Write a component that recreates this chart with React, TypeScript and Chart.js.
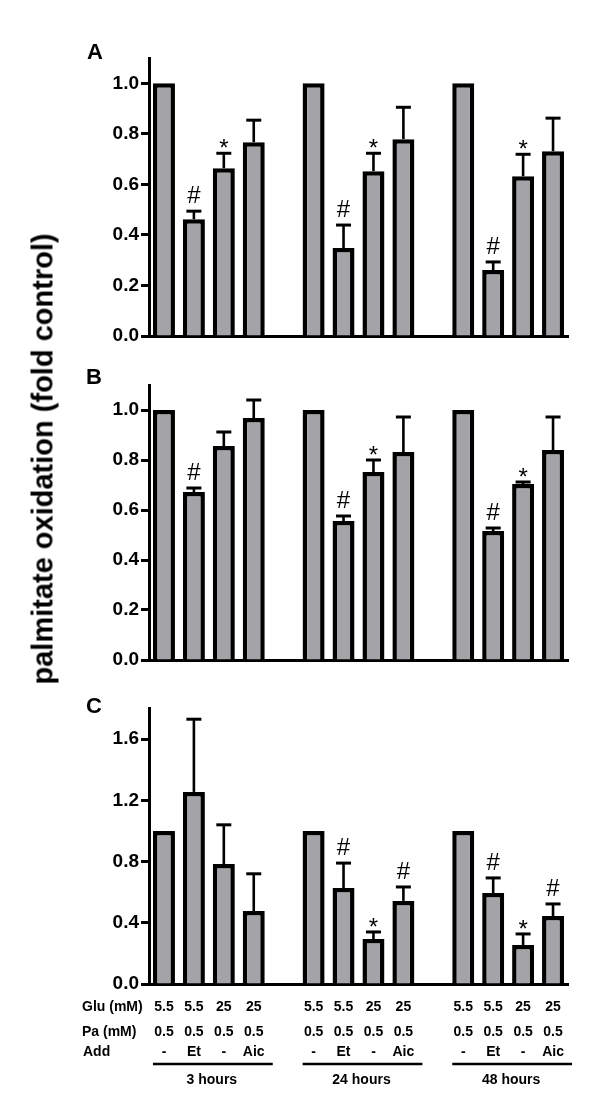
import React, { useEffect, useRef } from 'react';
import { Chart, registerables } from 'chart.js';

Chart.register(...registerables);

const FONT = "'Liberation Sans', Arial, Helvetica, sans-serif";

// Categories: 3 time groups x 4 conditions, with one empty slot between groups
const groupNames = ['3 hours', '24 hours', '48 hours'];
const conditionNames = ['Ctrl', 'Et', 'HG', 'Aic'];
const rowLabels = ['Glu (mM)', 'Pa (mM)', 'Add'];
const gluRow = ['5.5', '5.5', '25', '25'];
const paRow = ['0.5', '0.5', '0.5', '0.5'];
const addRow = ['-', 'Et', '-', 'Aic'];

// Panel A
const valuesA = [1.0, 0.462, 0.664, 0.767, 1.0, 0.348, 0.652, 0.779, 1.0, 0.261, 0.632, 0.731];
const errA = [0, 0.032, 0.059, 0.087, 0, 0.091, 0.071, 0.126, 0, 0.032, 0.087, 0.131];
const marksA = ['', '#', '*', '', '', '#', '*', '', '', '#', '*', ''];
const ticksA = [0, 0.2, 0.4, 0.6, 0.8, 1.0];

// Panel B
const valuesB = [1.0, 0.672, 0.856, 0.968, 1.0, 0.556, 0.752, 0.832, 1.0, 0.516, 0.704, 0.84];
const errB = [0, 0.016, 0.056, 0.072, 0, 0.02, 0.048, 0.14, 0, 0.012, 0.008, 0.132];
const marksB = ['', '#', '', '', '', '#', '*', '', '', '#', '*', ''];
const ticksB = [0, 0.2, 0.4, 0.6, 0.8, 1.0];

// Panel C
const valuesC = [1.0, 1.255, 0.784, 0.477, 1.0, 0.627, 0.294, 0.543, 1.0, 0.594, 0.255, 0.444];
const errC = [0, 0.475, 0.256, 0.243, 0, 0.163, 0.046, 0.091, 0, 0.099, 0.072, 0.079];
const marksC = ['', '', '', '', '', '#', '*', '#', '', '#', '*', '#'];
const ticksC = [0, 0.4, 0.8, 1.2, 1.6];

const slotLabels: string[] = [];
groupNames.forEach((g, gi) => {
  conditionNames.forEach((c) => slotLabels.push(g + ' ' + c));
  if (gi < groupNames.length - 1) slotLabels.push(' '.repeat(gi + 1));
});

function toSlots<T>(arr: T[], filler: T): T[] {
  const out: T[] = [];
  arr.forEach((v, i) => {
    out.push(v);
    if (i % 4 === 3 && i < arr.length - 1) out.push(filler);
  });
  return out;
}

function makeErrPlugin(err: (number | null)[], marks: string[]) {
  return {
    id: 'errbars',
    afterDatasetsDraw(chart: any) {
      const ctx = chart.ctx;
      const meta = chart.getDatasetMeta(0);
      const ys = chart.scales.y;
      const data = chart.data.datasets[0].data;
      ctx.save();
      ctx.strokeStyle = '#000';
      ctx.fillStyle = '#000';
      meta.data.forEach((bar: any, i: number) => {
        const v = data[i];
        const e = err[i];
        if (v == null) return;
        const x = bar.x;
        const topY = ys.getPixelForValue(v);
        let markY = topY;
        if (e != null && e > 0) {
          const eY = ys.getPixelForValue(v + e);
          ctx.lineWidth = 2.6;
          ctx.beginPath();
          ctx.moveTo(x, topY);
          ctx.lineTo(x, eY);
          ctx.stroke();
          ctx.lineWidth = 3;
          ctx.beginPath();
          ctx.moveTo(x - 7.5, eY);
          ctx.lineTo(x + 7.5, eY);
          ctx.stroke();
          markY = eY;
        }
        const m = marks[i];
        if (m) {
          ctx.font = `24px ${FONT}`;
          ctx.textAlign = 'center';
          ctx.textBaseline = 'alphabetic';
          if (m === '*') ctx.fillText(m, x, markY + 3);
          else ctx.fillText(m, x, markY - 8);
        }
      });
      ctx.restore();
    },
  };
}

const tablePlugin = {
  id: 'table',
  afterDraw(chart: any) {
    const ctx = chart.ctx;
    const xs = chart.scales.x;
    const rowY = [317, 342, 362];
    const lineY = 374;
    const hoursY = 390;
    ctx.save();
    ctx.fillStyle = '#000';
    ctx.strokeStyle = '#000';
    ctx.font = `bold 14px ${FONT}`;
    ctx.textBaseline = 'middle';
    ctx.textAlign = 'left';
    rowLabels.forEach((t, r) => ctx.fillText(t, r === 2 ? 83 : 82, rowY[r]));
    ctx.textAlign = 'center';
    groupNames.forEach((g, gi) => {
      const base = gi * 5;
      for (let k = 0; k < 4; k++) {
        const x = xs.getPixelForValue(base + k);
        ctx.fillText(gluRow[k], x, rowY[0]);
        ctx.fillText(paRow[k], x, rowY[1]);
        ctx.fillText(addRow[k], x, rowY[2]);
      }
      const x0 = xs.getPixelForValue(base);
      const x3 = xs.getPixelForValue(base + 3);
      ctx.lineWidth = 2.6;
      ctx.beginPath();
      ctx.moveTo(x0 - 11, lineY);
      ctx.lineTo(x3 + 19, lineY);
      ctx.stroke();
      ctx.fillText(g, (x0 + x3) / 2 + 3, hoursY);
    });
    ctx.restore();
  },
};

function makeConfig(
  values: number[],
  err: number[],
  marks: string[],
  yMax: number,
  yTicks: number[],
  padTop: number,
  padBottom: number,
  extra: any[]
): any {
  const data = toSlots<number | null>(values, null);
  const errSlots = toSlots<number | null>(err, null);
  const markSlots = toSlots<string>(marks, '');
  return {
    type: 'bar',
    data: {
      labels: slotLabels,
      datasets: [
        {
          data,
          backgroundColor: '#a3a3a8',
          borderColor: '#000',
          borderWidth: 4.5,
          borderSkipped: 'start',
          barPercentage: 0.735,
          categoryPercentage: 1,
        },
      ],
    },
    options: {
      animation: false,
      responsive: false,
      maintainAspectRatio: false,
      devicePixelRatio: 1,
      layout: { padding: { left: 0, right: 32, top: padTop, bottom: padBottom } },
      plugins: { legend: { display: false }, tooltip: { enabled: false }, title: { display: false } },
      scales: {
        x: {
          type: 'category',
          offset: true,
          grid: { display: false, drawTicks: false },
          ticks: { display: false },
          border: { display: true, color: '#000', width: 3 },
          afterFit: (s: any) => {
            s.height = 0;
          },
        },
        y: {
          min: 0,
          max: yMax,
          afterBuildTicks: (s: any) => {
            s.ticks = yTicks.map((v) => ({ value: v }));
          },
          ticks: {
            color: '#000',
            padding: 2,
            font: { family: FONT, size: 19, weight: 'bold' },
            callback: (v: any) => Number(v).toFixed(1),
          },
          grid: {
            drawOnChartArea: false,
            drawTicks: true,
            tickLength: 8,
            tickWidth: 3,
            tickColor: '#000',
          },
          border: { display: true, color: '#000', width: 3 },
          afterFit: (s: any) => {
            s.width = 149;
          },
        },
      },
    },
    plugins: [makeErrPlugin(errSlots, markSlots), ...extra],
  };
}

function Panel(props: { top: number; height: number; config: any }) {
  const ref = useRef<HTMLCanvasElement | null>(null);
  useEffect(() => {
    if (!ref.current) return;
    const chart = new Chart(ref.current, props.config);
    return () => chart.destroy();
  }, []);
  return (
    <canvas
      ref={ref}
      width={600}
      height={props.height}
      style={{ position: 'absolute', left: 0, top: props.top, width: 600, height: props.height, display: 'block' }}
    />
  );
}

const panelLetter = (text: string, x: number, y: number) => (
  <div
    key={text}
    style={{
      position: 'absolute',
      left: x,
      top: y,
      transform: 'translate(-50%, -50%)',
      font: `bold 22px ${FONT}`,
      lineHeight: '22px',
      color: '#000',
    }}
  >
    {text}
  </div>
);

export default function App() {
  const cfgA = makeConfig(valuesA, errA, marksA, 1.1, ticksA, 58, 24, []);
  const cfgB = makeConfig(valuesB, errB, marksB, 1.1, ticksB, 25, 30, []);
  const cfgC = makeConfig(valuesC, errC, marksC, 1.8, ticksC, 18.5, 114, [tablePlugin]);
  return (
    <div style={{ position: 'absolute', left: 0, top: 0, width: 600, height: 1098, background: '#fff', overflow: 'hidden' }}>
      <Panel top={0} height={360} config={cfgA} />
      <Panel top={360} height={330} config={cfgB} />
      <Panel top={690} height={408} config={cfgC} />
      {panelLetter('A', 95, 52)}
      {panelLetter('B', 94, 377)}
      {panelLetter('C', 94, 706)}
      <div
        style={{
          position: 'absolute',
          left: 43,
          top: 459,
          transform: 'translate(-50%, -50%) rotate(-90deg)',
          font: `bold 29px ${FONT}`,
          lineHeight: '29px',
          whiteSpace: 'nowrap',
          color: '#000',
        }}
      >
        palmitate oxidation (fold control)
      </div>
    </div>
  );
}
